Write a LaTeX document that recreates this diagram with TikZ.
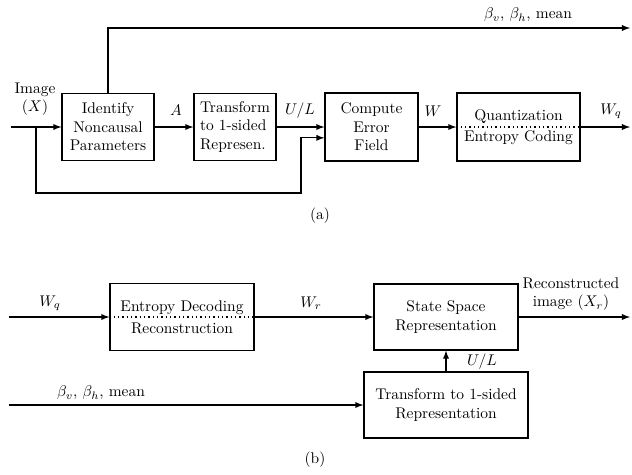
\documentclass[tikz,border=0pt]{standalone}
\usepackage{amsmath}
\usepackage{amssymb}
\usetikzlibrary{calc}

\begin{document}
\begin{tikzpicture}[x=0.646pt,y=-0.646pt,>=latex,line width=0.8pt]
    \tikzset{blk/.style={draw, align=center, inner sep=2pt}}
    \useasboundingbox (0,0) rectangle (632,474);

    % (a) encoder
    \node[blk, minimum width=59.4pt, minimum height=43.3pt] (ident) at (108,127) {Identify\\Noncausal\\Parameters};
    \node[blk, align=left, minimum width=53pt, minimum height=43.3pt] (trans) at (235,127) {Transform\\to 1-sided\\Represen.};
    \node[blk, minimum width=60.1pt, minimum height=43.9pt] (err) at (371.5,127) {Compute\\Error\\Field};
    \node[blk, minimum width=79.5pt, minimum height=43.9pt] (quant) at (518.5,127) {Quantization\\[2pt]Entropy Coding};

    \coordinate (img) at (11,127);
    \coordinate (fb) at (36,127);
    \coordinate (fbc) at (301,193);
    \coordinate (par) at (630,28);
    \coordinate (wqout) at (630,127);

    \draw[->] (img) -- (ident);
    \draw[->] (ident) -- (trans);
    \draw[->] (trans) -- (err);
    \draw[->] (err) -- (quant.west);
    \draw[dotted] (quant.west) -- (quant.east);
    \draw[->] (quant.east) -- (wqout);
    \draw[->] (ident.north) |- (par);
    \draw[->] (fb) |- (fbc) |- ([yshift=-7pt]err.west);

    \node[align=center] at (35,99) {Image\\$(X)$};
    \node at (176,110) {$A$};
    \node at (300,111) {$U/L$};
    \node at (433,111) {$W$};
    \node at (611,111) {$W_q$};
    \node at (528,15) {$\beta_v$, $\beta_h$, mean};
    \node at (320,216) {(a)};

    % (b) decoder
    \node[blk, minimum width=93pt, minimum height=43.3pt] (dec) at (182,317) {Entropy Decoding\\[2pt]Reconstruction};
    \node[blk, minimum width=93pt, minimum height=42.6pt] (ssr) at (446,317) {State Space\\Representation};
    \node[blk, minimum width=106pt, minimum height=42.6pt] (trans2) at (446,405) {Transform to 1-sided\\Representation};

    \coordinate (wqin) at (9,317);
    \coordinate (bin) at (9,405);
    \coordinate (xout) at (630,317);

    \draw[->] (wqin) -- (dec.west);
    \draw[dotted] (dec.west) -- (dec.east);
    \draw[->] (dec.east) -- (ssr.west);
    \draw[->] (ssr.east) -- (xout);
    \draw[->] (bin) -- (trans2.west);
    \draw[->] (trans2) -- (ssr);

    \node at (50,303) {$W_q$};
    \node at (311,303) {$W_r$};
    \node[align=center] at (571,294) {Reconstructed\\image $(X_r)$};
    \node at (482,362) {$U/L$};
    \node at (101,393) {$\beta_v$, $\beta_h$, mean};
    \node at (315,460) {(b)};
\end{tikzpicture}
\end{document}
